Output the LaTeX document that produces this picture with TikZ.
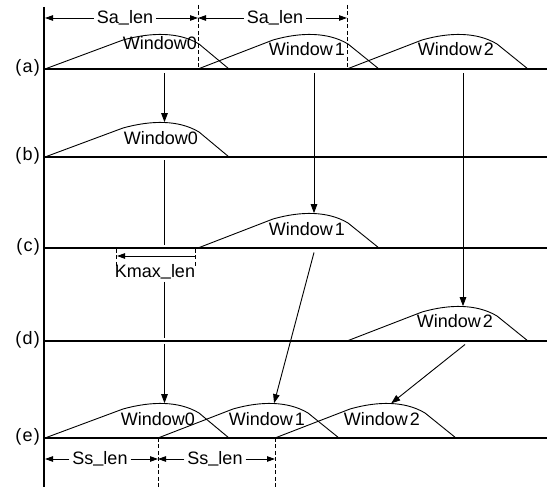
\documentclass[tikz,border=0pt]{standalone}
\usepackage{fontspec}
\usepackage{graphicx}
\setmainfont{Liberation Sans}
\usetikzlibrary{arrows.meta}
\newcommand\rsus{\raisebox{1.8pt}{\_}}
\begin{document}
\begin{tikzpicture}[x=1pt,y=-1pt,
  axisline/.style={line width=2pt},
  wcurve/.style={line width=0.9pt},
  arr/.style={line width=0.9pt,-{Triangle[length=9pt,width=6.5pt]},shorten >=0.3pt},
  dimarr/.style={line width=0.9pt,-{Triangle[length=8pt,width=5.5pt]}},
  dimtick/.style={line width=0.9pt,dash pattern=on 4pt off 2.5pt},
  lbl/.style={font=\fontsize{18}{21}\selectfont, inner sep=0pt},
  dimlbl/.style={font=\fontsize{18}{21}\selectfont, inner ysep=0pt, inner xsep=3pt},
  rowlbl/.style={inner sep=0pt, anchor=east, font=\fontsize{18}{21}\selectfont},
  window/.pic={\draw[wcurve] (0,0) -- (75,-29) .. controls (103,-37) and (130,-37) .. (150,-25) -- (181,0);
    \coordinate (-peak) at (116,-34.5);},
  windowz/.pic={\draw[wcurve] (0,0) -- (78,-29) .. controls (107,-37) and (134,-37) .. (154,-25) -- (184,0);
    \coordinate (-peak) at (119.5,-34.5);}
]
\useasboundingbox (0,0) rectangle (547,489);

% vertical axis
\coordinate (axtop) at (44,7);
\coordinate (axbot) at (44,487);
\draw[axisline] (axtop) -- (axbot);

% row baselines and labels
\foreach \r/\y in {a/69,b/157,c/248,d/341,e/438} {
  \coordinate (L\r) at (44,\y);
  \coordinate (R\r) at (547,\y);
  \draw[axisline] (L\r) -- (R\r);
  \node[rowlbl] (lab\r) at (40,\y-1) {(\kern1.2pt\r\kern1.2pt)};
}

% windows
\pic (wa0) at (45,69) {windowz};
\pic (wa1) at (198,69) {window};
\pic (wa2) at (347,69) {window};
\pic (wb0) at (45,157) {windowz};
\pic (wc1) at (198,248) {window};
\pic (wd2) at (347,341) {window};
\pic (we0) at (45,438) {windowz};
\pic (we1) at (158,438) {window};
\pic (we2) at (275,438) {window};

% window labels
\node[lbl] (ta0) at (160,43) {Window0};
\node[lbl] (ta1) at (307,49) {Window\kern2pt 1};
\node[lbl] (ta2) at (456,49) {Window\kern2pt 2};
\node[lbl] (tb0) at (161,138) {Window0};
\node[lbl] (tc1) at (307,229) {Window\kern2pt 1};
\node[lbl] (td2) at (455,321) {Window\kern2pt 2};
\node[lbl] (te0) at (158,419) {Window0};
\node[lbl] (te1) at (267,419) {Window\kern2pt 1};
\node[lbl] (te2) at (382,419) {Window\kern2pt 2};

% arrows between rows
\path (wa0-peak) ++(0,39) coordinate (sa0);
\draw[arr] (sa0) -- (wb0-peak);
\path (wa1-peak) ++(0,39) coordinate (sa1);
\draw[arr] (sa1) -- (wc1-peak);
\path (wa2-peak) ++(0,39) coordinate (sa2);
\draw[arr] (sa2) -- (wd2-peak);

\path (wb0-peak) ++(0,38) coordinate (v1);
\path (wb0-peak) ++(0,122.5) coordinate (v2);
\path (wb0-peak) ++(0,159.5) coordinate (v3);
\path (wb0-peak) ++(0,215.5) coordinate (v4);
\path (wb0-peak) ++(0,221.5) coordinate (v5);
\draw[wcurve] (v1) -- (v2);
\draw[wcurve] (v3) -- (v4);
\draw[arr] (v5) -- (we0-peak);

\path (wc1-peak) ++(0,39) coordinate (sc1);
\draw[arr] (sc1) -- (we1-peak);
\path (wd2-peak) ++(2,38) coordinate (sd2);
\draw[arr] (sd2) -- (we2-peak);

% Sa_len dimensions
\coordinate (sal) at (45,18);
\coordinate (sam) at (198,18);
\coordinate (sar) at (347,18);
\node[dimlbl] (salen1) at (125,18) {Sa\rsus len};
\node[dimlbl] (salen2) at (275,18) {Sa\rsus len};
\draw[dimarr] (salen1) -- (sal);
\draw[dimarr] (salen1) -- (sam);
\draw[dimarr] (salen2) -- (sam);
\draw[dimarr] (salen2) -- (sar);
\coordinate (tk1t) at (198,5);
\coordinate (tk1b) at (198,69);
\coordinate (tk2t) at (347,5);
\coordinate (tk2b) at (347,69);
\draw[dimtick] (tk1t) -- (tk1b);
\draw[dimtick] (tk2t) -- (tk2b);

% Kmax_len
\coordinate (kml) at (117,256);
\coordinate (kmr) at (195,256);
\draw[dimarr] (kmr) -- (kml);
\coordinate (kt1t) at (116,249);
\coordinate (kt1b) at (116,268);
\coordinate (kt2t) at (195,249);
\coordinate (kt2b) at (195,268);
\draw[dimtick] (kt1t) -- (kt1b);
\draw[dimtick] (kt2t) -- (kt2b);
\node[lbl] (kmax) at (155,272) {Kmax\rsus len};

% Ss_len dimensions
\coordinate (ssl) at (45,459);
\coordinate (ssm) at (158,459);
\coordinate (ssr) at (275,459);
\node[dimlbl] (sslen1) at (100,459) {Ss\rsus len};
\node[dimlbl] (sslen2) at (215,459) {Ss\rsus len};
\draw[dimarr] (sslen1) -- (ssl);
\draw[dimarr] (sslen1) -- (ssm);
\draw[dimarr] (sslen2) -- (ssm);
\draw[dimarr] (sslen2) -- (ssr);
\coordinate (st1t) at (158,438);
\coordinate (st1b) at (158,489);
\coordinate (st2t) at (275,438);
\coordinate (st2b) at (275,489);
\draw[dimtick] (st1t) -- (st1b);
\draw[dimtick] (st2t) -- (st2b);
\end{tikzpicture}
\end{document}
